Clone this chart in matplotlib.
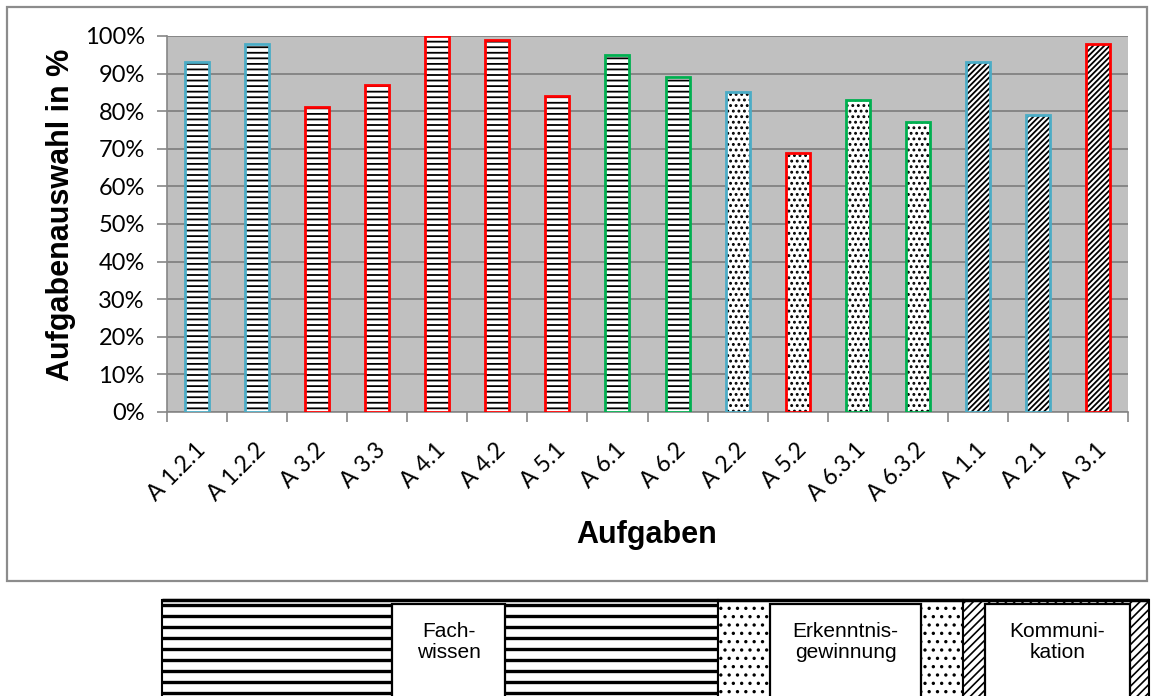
import numpy as np
import matplotlib
matplotlib.use("Agg")
import matplotlib.pyplot as plt
from matplotlib.patches import Rectangle
from matplotlib.ticker import PercentFormatter
from matplotlib.transforms import ScaledTranslation

# data
tasks = ["A 1.2.1", "A 1.2.2", "A 3.2", "A 3.3", "A 4.1", "A 4.2", "A 5.1", "A 6.1",
         "A 6.2", "A 2.2", "A 5.2", "A 6.3.1", "A 6.3.2", "A 1.1", "A 2.1", "A 3.1"]
selection = [93, 98, 81, 87, 100, 99, 84, 95, 89, 85, 69, 83, 77, 93, 79, 98]
competence = ["Fachwissen"] * 9 + ["Erkenntnisgewinnung"] * 4 + ["Kommunikation"] * 3
outline = ["blue", "blue", "red", "red", "red", "red", "red", "green",
           "green", "blue", "red", "green", "green", "blue", "blue", "red"]

COLORS = {"blue": "#4BACC6", "red": "#FF0000", "green": "#00B050"}
HATCHES = {"Fachwissen": "---", "Erkenntnisgewinnung": "...", "Kommunikation": "//////"}
GRAY = "#868686"

W, H = 1151, 696
fig = plt.figure(figsize=(W / 100, H / 100), dpi=100)

# outer chart frame
fig.patches.append(Rectangle((7 / W, 1 - 581 / H), 1140 / W, 574 / H, transform=fig.transFigure,
                             fill=False, edgecolor="#8C8C8C", linewidth=1.6))

ax = fig.add_axes([167 / W, 1 - 412 / H, (1128 - 167) / W, (412 - 36) / H])
ax.set_facecolor("#C0C0C0")
x = np.arange(len(tasks))

plt.rcParams["hatch.linewidth"] = 1.3
fill = ax.bar(x, selection, width=0.4, color="white", edgecolor="black", linewidth=0, zorder=3)
for bar, comp in zip(fill, competence):
    bar.set_hatch(HATCHES[comp])
    if hasattr(bar, "set_hatch_linewidth"):
        bar.set_hatch_linewidth(1.3)
ax.bar(x, selection, width=0.4, fill=False, edgecolor=[COLORS[c] for c in outline],
       linewidth=2.0, zorder=4)

ax.set_xlim(-0.5, len(tasks) - 0.5)
ax.set_ylim(0, 100)
ax.set_yticks(np.arange(0, 101, 10))
ax.yaxis.set_major_formatter(PercentFormatter(decimals=0))
ax.yaxis.grid(True, color=GRAY, linewidth=1.4)
ax.set_axisbelow(True)
for s in ["top", "right"]:
    ax.spines[s].set_visible(False)
for s in ["left", "bottom"]:
    ax.spines[s].set_color(GRAY)
    ax.spines[s].set_linewidth(1.2)

ax.set_xticks(np.arange(len(tasks) + 1) - 0.5)
ax.set_xticklabels([])
ax.set_xticks(x, labels=tasks, minor=True)
ax.tick_params(axis="x", which="major", length=7, color=GRAY, width=1.2)
ax.tick_params(axis="x", which="minor", length=0, pad=25, labelsize=16.5)
ax.tick_params(axis="y", length=7, color=GRAY, width=1.2, pad=9, labelsize=17)
for lab in ax.get_yticklabels():
    lab.set_family("Lato")
for lab in ax.get_xticklabels(minor=True):
    lab.set_family("Lato")
    lab.set_rotation(45)
    lab.set_ha("right")
    lab.set_va("center")
    lab.set_rotation_mode("anchor")
    lab.set_transform(lab.get_transform() + ScaledTranslation(5 / 100, 0, fig.dpi_scale_trans))

fig.text(647 / W, 1 - 535 / H, "Aufgaben", ha="center", va="center",
         fontsize=22, fontweight="bold", family="Liberation Sans")
fig.text(61 / W, 1 - 215 / H, "Aufgabenauswahl in %", ha="center", va="center", rotation=90,
         fontsize=22, fontweight="bold", family="Liberation Sans")

# legend strip below the chart (drawn in pixel coordinates)
lax = fig.add_axes([0, 0, 1, 1], zorder=5)
lax.set_xlim(0, W)
lax.set_ylim(H, 0)
lax.axis("off")

top, bottom = 600, 720
lax.add_patch(Rectangle((162, top), 718 - 162, bottom - top, facecolor="white",
                        edgecolor="black", linewidth=1.5, zorder=1))
lax.hlines(np.arange(top + 5, bottom, 11), 162, 718, color="black", linewidth=2.4, zorder=2)
sections = [(718, 963, ".."), (963, 1149, "////")]
for x0, x1, hatch in sections:
    p = Rectangle((x0, top), x1 - x0, bottom - top, facecolor="white",
                  edgecolor="black", linewidth=1.5, hatch=hatch, zorder=1)
    if hasattr(p, "set_hatch_linewidth"):
        p.set_hatch_linewidth(1.2)
    lax.add_patch(p)
lax.hlines(top - 0.5, 162, 1149, color="black", linewidth=2.5, zorder=4)

boxes = [(392, 505, "Fach-\nwissen"), (770, 921, "Erkenntnis-\ngewinnung"), (985, 1130, "Kommuni-\nkation")]
for x0, x1, text in boxes:
    lax.add_patch(Rectangle((x0, 604), x1 - x0, bottom - 604, facecolor="white",
                            edgecolor="black", linewidth=1.6, zorder=3))
    lax.text((x0 + x1) / 2, 642, text, ha="center", va="center", fontsize=15,
             family="Liberation Sans", linespacing=1.15, zorder=5)

fig.savefig("out.png", dpi=100)
